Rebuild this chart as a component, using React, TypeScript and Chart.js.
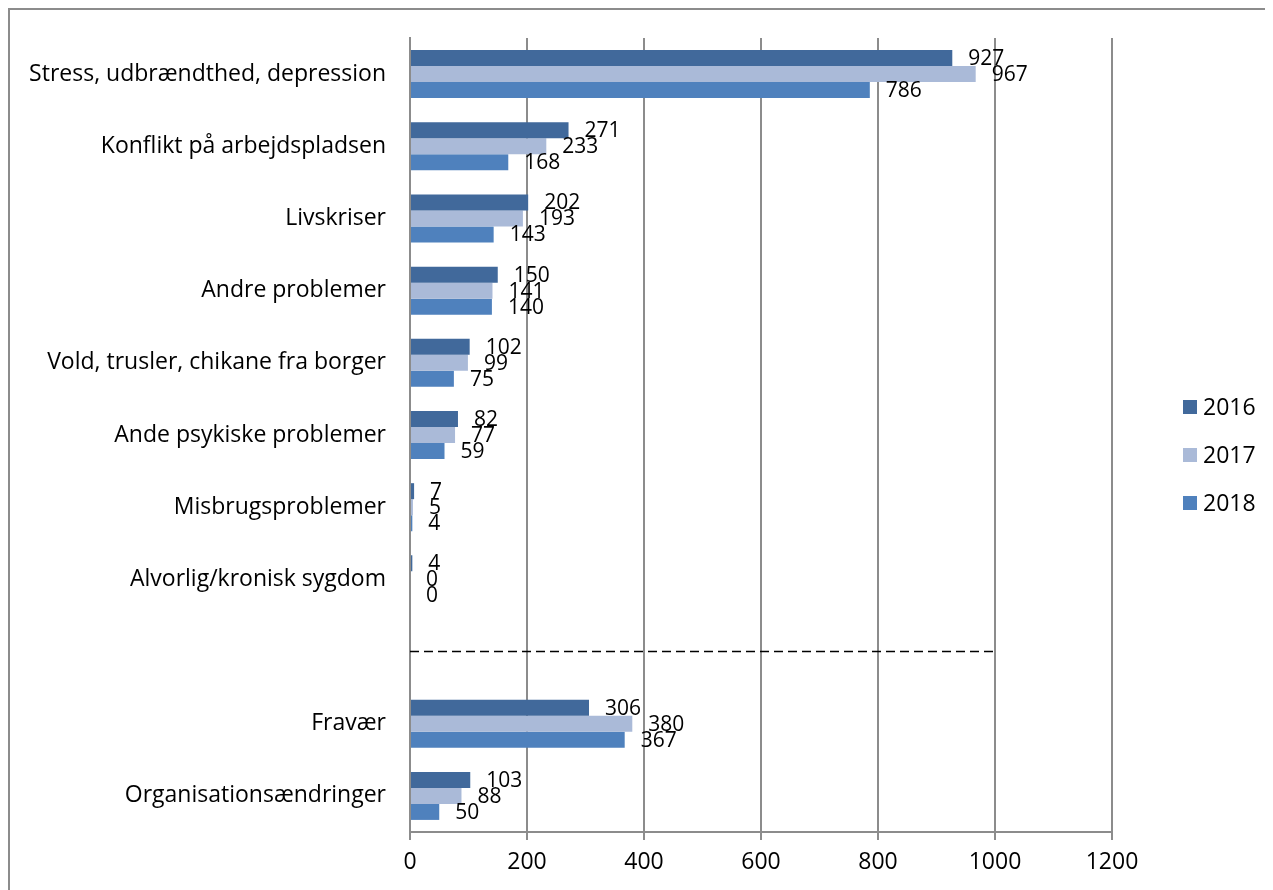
import React, { useEffect, useRef } from "react";
import { Chart, registerables } from "chart.js";

Chart.register(...registerables);

const categories = [
  "Stress, udbrændthed, depression",
  "Konflikt på arbejdspladsen",
  "Livskriser",
  "Andre problemer",
  "Vold, trusler, chikane fra borger",
  "Ande psykiske problemer",
  "Misbrugsproblemer",
  "Alvorlig/kronisk sygdom",
  "",
  "Fravær",
  "Organisationsændringer",
];
const seriesNames = ["2016", "2017", "2018"];
const values2016 = [927, 271, 202, 150, 102, 82, 7, 4, null, 306, 103];
const values2017 = [967, 233, 193, 141, 99, 77, 5, 0, null, 380, 88];
const values2018 = [786, 168, 143, 140, 75, 59, 4, 0, null, 367, 50];
const xMin = 0;
const xMax = 1200;
const xStep = 200;
const dividerIndex = 8;
const dividerEnd = 1000;

const colors = ["#41699B", "#AABAD8", "#4F81BD"];
const FONT = "'Open Sans', 'Noto Sans', sans-serif";
const GRID = "#8C8C8C";

const labelPlugin = {
  id: "barLabels",
  afterDatasetsDraw(chart: any) {
    const ctx = chart.ctx;
    ctx.save();
    ctx.font = `21px ${FONT}`;
    ctx.fillStyle = "#000";
    ctx.textBaseline = "middle";
    ctx.textAlign = "left";
    chart.data.datasets.forEach((ds: any, di: number) => {
      const meta = chart.getDatasetMeta(di);
      meta.data.forEach((el: any, i: number) => {
        const v = ds.data[i];
        if (v === null || v === undefined) return;
        ctx.fillText(String(v), el.x + 16, el.y + 1);
      });
    });
    ctx.restore();
  },
};

const dividerPlugin = {
  id: "divider",
  afterDatasetsDraw(chart: any) {
    const ctx = chart.ctx;
    const x = chart.scales.x;
    const y = chart.scales.y;
    const yy = y.getPixelForValue(dividerIndex);
    ctx.save();
    ctx.strokeStyle = "#000";
    ctx.lineWidth = 1.6;
    ctx.setLineDash([9, 5]);
    ctx.beginPath();
    ctx.moveTo(x.getPixelForValue(xMin), yy);
    ctx.lineTo(x.getPixelForValue(dividerEnd), yy);
    ctx.stroke();
    ctx.restore();
  },
};

const legendPlugin = {
  id: "sideLegend",
  afterDraw(chart: any) {
    const ctx = chart.ctx;
    const area = chart.chartArea;
    const cy = (area.top + area.bottom) / 2;
    ctx.save();
    ctx.font = `23px ${FONT}`;
    ctx.textBaseline = "middle";
    ctx.textAlign = "left";
    chart.data.datasets.forEach((ds: any, i: number) => {
      const y = cy - 28 + i * 48;
      const x = area.right + 71;
      ctx.fillStyle = ds.backgroundColor;
      ctx.fillRect(x, y - 7, 14, 14);
      ctx.fillStyle = "#000";
      ctx.fillText(ds.label, x + 20, y + 1);
    });
    ctx.restore();
  },
};

export default function App() {
  const ref = useRef<HTMLCanvasElement | null>(null);
  useEffect(() => {
    if (!ref.current) return;
    const data = [values2016, values2017, values2018];
    const chart = new Chart(ref.current, {
      type: "bar",
      data: {
        labels: categories,
        datasets: seriesNames.map((name, i) => ({
          label: name,
          data: data[i] as any,
          backgroundColor: colors[i],
          borderWidth: 0,
          categoryPercentage: 0.665,
          barPercentage: 1,
        })),
      },
      options: {
        animation: false,
        responsive: true,
        maintainAspectRatio: false,
        indexAxis: "y",
        layout: { padding: { top: 28, right: 158, left: 0, bottom: 0 } },
        plugins: {
          legend: { display: false },
          tooltip: { enabled: false },
        },
        scales: {
          x: {
            min: xMin,
            max: xMax,
            ticks: {
              stepSize: xStep,
              color: "#000",
              font: { family: FONT, size: 23 },
              padding: 9,
              callback: (v: any) => String(v),
            },
            grid: {
              color: GRID,
              lineWidth: 2,
              tickLength: 8,
              drawTicks: true,
            },
            border: { display: true, color: GRID, width: 2 },
            afterFit(scale: any) {
              scale.height = 58;
            },
          },
          y: {
            ticks: {
              color: "#000",
              font: { family: FONT, size: 23 },
              padding: 24,
              autoSkip: false,
            },
            grid: { display: false, drawTicks: false },
            border: { display: true, color: GRID, width: 2 },
            afterFit(scale: any) {
              scale.width = 400;
              scale.paddingTop = 0;
              scale.paddingBottom = 0;
            },
          },
        },
      },
      plugins: [dividerPlugin, labelPlugin, legendPlugin],
    });
    return () => chart.destroy();
  }, []);

  return (
    <div style={{ height: 882, overflow: "hidden" }}>
      <div
        style={{
          boxSizing: "border-box",
          width: 1264,
          height: 900,
          border: "2px solid #8C8C8C",
          background: "#fff",
        }}
      >
        <div style={{ position: "relative", width: 1260, height: 880 }}>
          <canvas ref={ref} />
        </div>
      </div>
    </div>
  );
}
